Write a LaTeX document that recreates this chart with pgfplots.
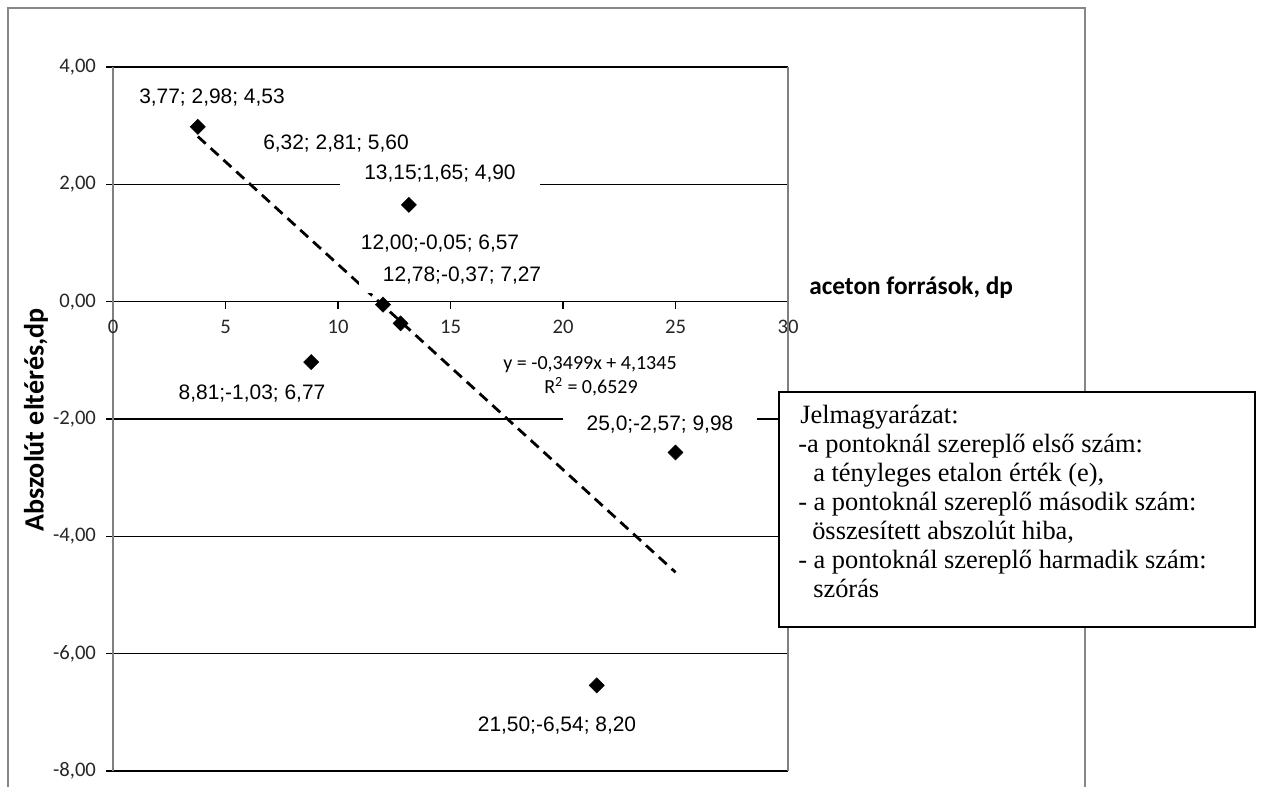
\documentclass[border=0pt]{standalone}
\usepackage{pgfplots}
\pgfplotsset{compat=1.18}
\usepackage{fontspec}
\setmainfont{Carlito}
\newfontfamily\arialf{Liberation Sans}
\newfontfamily\timesf{Liberation Serif}
\begin{document}
\begin{tikzpicture}[x=0.75pt,y=-0.75pt]
\useasboundingbox (0,0) rectangle (1262,787);
\draw[color=black!47, line width=1.1pt] (8,790) -- (8,8) -- (1085,8) -- (1085,790);
\begin{axis}[
  at={({113*0.75pt},{-771*0.75pt})}, anchor=south west,
  scale only axis, width=506.25pt, height=528pt,
  xmin=0, xmax=30, ymin=-8, ymax=4,
  axis x line=middle, axis y line=left,
  axis line style={-},
  x axis line style={black, line width=0.9pt},
  y axis line style={black!50, line width=0.8pt},
  xtick={0,5,...,30}, ytick={-8,-6,...,4},
  ymajorgrids, major grid style={black, line width=0.9pt},
  tick align=outside, major tick length=5.25pt,
  tick style={black, line width=0.8pt},
  hide obscured x ticks=false, hide obscured y ticks=false,
  /pgf/number format/assume math mode=true,
  tick label style={font=\fontsize{15.5}{18}\selectfont, color=black!85},
  xticklabel style={yshift=-5pt},
  yticklabel style={xshift=-4pt, /pgf/number format/.cd, fixed, fixed zerofill, precision=2, use comma},
  clip=false,
]
\addplot[only marks, mark=square*, mark size=4pt,
  mark options={rotate=45, fill=black, draw=black}] coordinates {
  (3.77,2.98) (6.32,2.81) (13.15,1.65) (12.00,-0.05)
  (12.78,-0.37) (8.81,-1.03) (25.0,-2.57) (21.50,-6.54)
};
\addplot[black, line width=2.1pt, dash pattern=on 8pt off 5pt] coordinates {
  (3.77,2.8154) (25.0,-4.6130)
};
\draw[black!50, line width=0.8pt] (axis cs:30,-8) -- (axis cs:30,4);
\end{axis}
% data labels
\begin{scope}[every node/.style={font=\arialf\fontsize{15.7}{18}\selectfont, fill=white,
   inner xsep=18pt, inner ysep=5pt, text height=11.5pt, text depth=3.5pt, anchor=base}]
\node at (212,104) {3,77; 2,98; 4,53};
\node at (336,150) {6,32; 2,81; 5,60};
\node at (440,180) {13,15;1,65; 4,90};
\node at (440,250) {12,00;-0,05; 6,57};
\node at (462,282) {12,78;-0,37; 7,27};
\node at (252,399) {8,81;-1,03; 6,77};
\node at (660,430) {25,0;-2,57; 9,98};
\node at (557,731) {21,50;-6,54; 8,20};
\end{scope}
% trendline equation
\node[font=\fontsize{15}{18}\selectfont, anchor=base] at (590,370) {y = -0,3499x + 4,1345};
\node[font=\fontsize{15}{18}\selectfont, anchor=base] at (591,393) {R\textsuperscript{2} = 0,6529};
% axis titles
\node[font=\bfseries\fontsize{19}{22}\selectfont, anchor=base west, inner sep=0pt] at (809,295) {aceton források, dp};
\node[font=\bfseries\fontsize{21}{24}\selectfont, rotate=90, inner sep=0pt] at (36,420) {Abszolút eltérés,dp};
% explanation box
\draw[black, line width=1.3pt, fill=white] (779,392) rectangle (1255,627);
\begin{scope}[every node/.style={font=\timesf\fontsize{19.8}{22}\selectfont, anchor=base west, inner sep=0pt}]
\node at (800,423) {Jelmagyarázat:};
\node at (798,452) {-a pontoknál szereplő első szám:};
\node at (813,481) {a tényleges etalon érték (e),};
\node at (798,510) {- a pontoknál szereplő második szám:};
\node at (812,539) {összesített abszolút hiba,};
\node at (798,568) {- a pontoknál szereplő harmadik szám:};
\node at (813,597) {szórás};
\end{scope}
\end{tikzpicture}
\end{document}
